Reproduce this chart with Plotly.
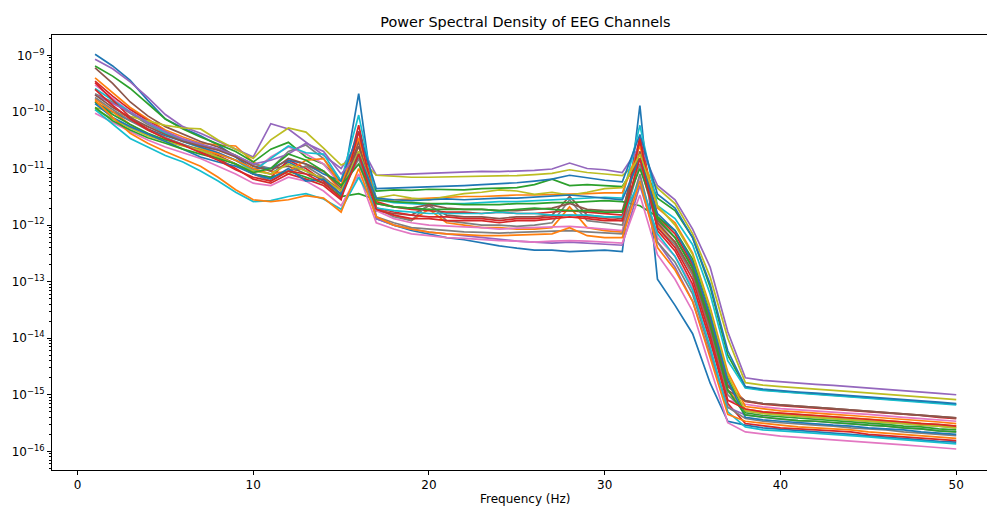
import plotly.graph_objects as go

# Frequencies (Hz)
freqs = [1, 2, 3, 4, 5, 6, 7, 8, 9, 10,
         11, 12, 13, 14, 15, 16, 17, 18, 19, 20,
         21, 22, 23, 24, 25, 26, 27, 28, 29, 30,
         31, 32, 33, 34, 35, 36, 37, 38, 39, 40,
         41, 42, 43, 44, 45, 46, 47, 48, 49, 50]

# PSD per channel (V^2/Hz)
psd_ch00 = [1.05e-9, 6.5e-10, 3.6e-10, 1.6e-10, 7.5e-11, 5.2e-11, 3.8e-11, 2.6e-11, 1.6e-11, 9.5e-12,
            8e-12, 1.3e-11, 9e-12, 6e-12, 3.5e-12, 2.1e-10,
            1.3e-12, 1.0e-12, 8e-13, 7e-13, 6e-13, 5.5e-13, 4.8e-13, 4.3e-13, 3.9e-13, 3.6e-13, 3.6e-13, 3.4e-13, 3.5e-13, 3.6e-13, 3.4e-13,
            1.3e-10, 1.1e-13, 3.8e-14, 1.2e-14, 1.6e-15, 3.4e-16,
            2.9e-16, 2.6e-16, 2.45e-16, 2.3e-16, 2.2e-16, 2.1e-16, 2.0e-16, 1.9e-16, 1.8e-16, 1.7e-16, 1.6e-16, 1.5e-16, 1.45e-16]
psd_ch01 = [4.0e-10, 2.2e-10, 1.2e-10, 7.5e-11, 4.8e-11, 3.6e-11, 2.8e-11, 2.6e-11, 2.5e-11, 1.3e-11,
            9e-12, 8e-12, 1.1e-11, 9e-12, 4e-12, 2.5e-11,
            2.0e-12, 1.5e-12, 1.2e-12, 1.9e-12, 1.1e-12, 1.0e-12, 9e-13, 9e-13, 8.5e-13, 8.5e-13, 9e-13, 2.1e-12, 9e-13, 8e-13, 7.5e-13,
            2.0e-11, 1.0e-12, 5e-13, 1.4e-13, 1.5e-14, 1.2e-15,
            5.6e-16, 5.0e-16, 4.7e-16, 4.5e-16, 4.3e-16, 4.1e-16, 3.9e-16, 3.7e-16, 3.5e-16, 3.3e-16, 3.1e-16, 3.0e-16, 2.8e-16]
psd_ch02 = [6.5e-10, 4.3e-10, 2.6e-10, 1.4e-10, 7.5e-11, 5e-11, 3.6e-11, 2.7e-11, 2.0e-11, 1.3e-11,
            2.2e-11, 2.9e-11, 1.6e-11, 1.2e-11, 6e-12, 1.5e-11,
            4.0e-12, 4.2e-12, 4.1e-12, 4.3e-12, 4.2e-12, 4.2e-12, 4.4e-12, 4.5e-12, 4.6e-12, 5.2e-12, 6.5e-12, 5.0e-12, 5.2e-12, 5.0e-12, 4.8e-12,
            1.5e-11, 3.0e-12, 1.8e-12, 6e-13, 8e-14, 5e-15,
            1.36e-15, 1.22e-15, 1.15e-15, 1.09e-15, 1.04e-15, 9.9e-16, 9.5e-16, 9.0e-16, 8.5e-16, 8.0e-16, 7.6e-16, 7.2e-16, 6.8e-16]
psd_ch03 = [3.5e-10, 1.9e-10, 1.1e-10, 7e-11, 4.5e-11, 3.2e-11, 2.4e-11, 1.7e-11, 1.2e-11, 8e-12,
            7e-12, 1.4e-11, 1.0e-11, 6e-12, 3.5e-12, 5.8e-11,
            2.6e-12, 2.1e-12, 1.9e-12, 1.8e-12, 1.7e-12, 1.7e-12, 1.6e-12, 1.7e-12, 1.6e-12, 1.6e-12, 1.7e-12, 1.8e-12, 1.7e-12, 1.6e-12, 1.5e-12,
            3.6e-11, 1.4e-12, 7e-13, 2e-13, 2.2e-14, 1.5e-15,
            7.6e-16, 6.8e-16, 6.4e-16, 6.1e-16, 5.8e-16, 5.5e-16, 5.3e-16, 5.0e-16, 4.8e-16, 4.5e-16, 4.3e-16, 4.0e-16, 3.8e-16]
psd_ch04 = [8.5e-10, 5.8e-10, 3.4e-10, 1.8e-10, 9e-11, 5.5e-11, 4.2e-11, 3.0e-11, 2.2e-11, 1.6e-11,
            6.2e-11, 5.0e-11, 2.9e-11, 1.7e-11, 1.0e-11, 3.0e-11,
            7.6e-12, 7.8e-12, 8.0e-12, 8.3e-12, 8.5e-12, 8.7e-12, 8.9e-12, 8.8e-12, 9.0e-12, 9.3e-12, 9.8e-12, 1.25e-11, 1.0e-11, 9.5e-12, 8.5e-12,
            2.5e-11, 5.0e-12, 2.8e-12, 8.5e-13, 1.8e-13, 1.3e-14,
            2.0e-15, 1.8e-15, 1.69e-15, 1.6e-15, 1.53e-15, 1.46e-15, 1.39e-15, 1.32e-15, 1.25e-15, 1.18e-15, 1.12e-15, 1.06e-15, 1.0e-15]
psd_ch05 = [6.0e-10, 3.2e-10, 1.5e-10, 8.5e-11, 5.5e-11, 4.0e-11, 3.0e-11, 2.4e-11, 1.7e-11, 1.1e-11,
            1.0e-11, 1.1e-11, 8e-12, 7e-12, 4e-12, 3.0e-11,
            1.8e-12, 1.6e-12, 1.5e-12, 2.2e-12, 1.5e-12, 1.4e-12, 1.4e-12, 1.3e-12, 1.4e-12, 1.4e-12, 1.5e-12, 3.2e-12, 1.5e-12, 1.4e-12, 1.3e-12,
            3.0e-11, 1.2e-12, 6e-13, 1.8e-13, 2e-14, 1.4e-15,
            7.8e-16, 7.0e-16, 6.6e-16, 6.2e-16, 6.0e-16, 5.7e-16, 5.4e-16, 5.1e-16, 4.9e-16, 4.6e-16, 4.4e-16, 4.1e-16, 3.9e-16]
psd_ch06 = [3.0e-10, 1.7e-10, 1.0e-10, 6.5e-11, 4.5e-11, 3.4e-11, 2.6e-11, 1.9e-11, 1.4e-11, 9e-12,
            1.6e-11, 2.4e-11, 1.8e-11, 1.2e-11, 5e-12, 1.2e-11,
            1.8e-12, 1.3e-12, 1.1e-12, 1.0e-12, 9.5e-13, 9.3e-13, 9.0e-13, 8.5e-13, 8.8e-13, 9.0e-13, 9.3e-13, 9.5e-13, 9.0e-13, 8.5e-13, 8.0e-13,
            7e-12, 6e-13, 2.8e-13, 8e-14, 9e-15, 8e-16,
            6.8e-16, 6.1e-16, 5.7e-16, 5.4e-16, 5.2e-16, 5.0e-16, 4.7e-16, 4.5e-16, 4.3e-16, 4.0e-16, 3.8e-16, 3.6e-16, 3.4e-16]
psd_ch07 = [2.1e-10, 1.5e-10, 9.5e-11, 6e-11, 4.2e-11, 3.2e-11, 2.6e-11, 2.2e-11, 1.7e-11, 1.2e-11,
            1.0e-11, 2.0e-11, 2.6e-11, 1.5e-11, 6e-12, 2.0e-11,
            2.0e-12, 1.4e-12, 1.2e-12, 2.4e-12, 1.2e-12, 1.1e-12, 1.0e-12, 1.0e-12, 9.5e-13, 1.0e-12, 1.1e-12, 2.8e-12, 1.2e-12, 1.1e-12, 1.0e-12,
            1.2e-11, 9e-13, 4.5e-13, 1.3e-13, 1.3e-14, 1.0e-15,
            5.2e-16, 4.7e-16, 4.4e-16, 4.2e-16, 4.0e-16, 3.8e-16, 3.6e-16, 3.4e-16, 3.3e-16, 3.1e-16, 2.9e-16, 2.8e-16, 2.6e-16]
psd_ch08 = [1.2e-10, 1.0e-10, 8.5e-11, 7e-11, 5.8e-11, 5.2e-11, 5.0e-11, 3.2e-11, 2.2e-11, 1.5e-11,
            3.2e-11, 5.2e-11, 4.4e-11, 2.3e-11, 1.15e-11, 1.6e-11,
            7.6e-12, 7.2e-12, 7.0e-12, 7.0e-12, 7.1e-12, 7.0e-12, 7.2e-12, 7.3e-12, 7.5e-12, 7.8e-12, 8.2e-12, 9.5e-12, 8.5e-12, 8.0e-12, 7.5e-12,
            1.4e-11, 4.5e-12, 2.4e-12, 7e-13, 1.2e-13, 1.0e-14,
            1.64e-15, 1.48e-15, 1.39e-15, 1.31e-15, 1.25e-15, 1.2e-15, 1.14e-15, 1.08e-15, 1.03e-15, 9.7e-16, 9.2e-16, 8.7e-16, 8.2e-16]
psd_ch09 = [2.6e-10, 1.6e-10, 1.0e-10, 6.5e-11, 4.2e-11, 3.0e-11, 2.3e-11, 1.8e-11, 1.4e-11, 9e-12,
            1.5e-11, 2.5e-11, 1.9e-11, 1.8e-11, 6e-12, 8.8e-11,
            2.8e-12, 2.5e-12, 2.4e-12, 2.3e-12, 2.4e-12, 2.4e-12, 2.5e-12, 2.6e-12, 2.6e-12, 2.7e-12, 2.8e-12, 2.9e-12, 3.0e-12, 3.1e-12, 3.0e-12,
            5.8e-11, 2.2e-12, 1.3e-12, 4.5e-13, 6e-14, 4e-15,
            1.32e-15, 1.19e-15, 1.12e-15, 1.06e-15, 1.01e-15, 9.6e-16, 9.2e-16, 8.7e-16, 8.3e-16, 7.8e-16, 7.4e-16, 7.0e-16, 6.6e-16]
psd_ch10 = [1.5e-10, 1.0e-10, 7e-11, 5e-11, 3.8e-11, 3.0e-11, 2.4e-11, 1.9e-11, 1.4e-11, 1.0e-11,
            1.0e-11, 1.4e-11, 1.2e-11, 8e-12, 6e-12, 4.5e-11,
            4.4e-12, 4.5e-12, 4.6e-12, 4.8e-12, 4.8e-12, 5.0e-12, 5.2e-12, 5.4e-12, 5.6e-12, 6.0e-12, 6.5e-12, 7.6e-12, 6.8e-12, 6.2e-12, 5.8e-12,
            4.0e-11, 3.5e-12, 2.0e-12, 6e-13, 9e-14, 6e-15,
            1.4e-15, 1.26e-15, 1.18e-15, 1.12e-15, 1.07e-15, 1.02e-15, 9.7e-16, 9.2e-16, 8.8e-16, 8.3e-16, 7.8e-16, 7.4e-16, 7.0e-16]
psd_ch11 = [1.7e-10, 1.0e-10, 6e-11, 4e-11, 3.2e-11, 2.6e-11, 2.2e-11, 1.8e-11, 1.4e-11, 1.0e-11,
            8e-12, 9e-12, 1.4e-11, 1.5e-11, 5e-12, 3.5e-11,
            2.7e-12, 2.8e-12, 2.9e-12, 3.0e-12, 3.1e-12, 3.2e-12, 3.2e-12, 3.3e-12, 3.4e-12, 3.4e-12, 3.5e-12, 3.6e-12, 3.6e-12, 3.7e-12, 3.7e-12,
            2.5e-11, 2.0e-12, 1.1e-12, 3.2e-13, 3.5e-14, 2.5e-15,
            6.2e-16, 5.6e-16, 5.2e-16, 5.0e-16, 4.7e-16, 4.5e-16, 4.3e-16, 4.1e-16, 3.9e-16, 3.7e-16, 3.5e-16, 3.3e-16, 3.1e-16]
psd_ch12 = [1.5e-10, 9e-11, 6e-11, 4.2e-11, 3.2e-11, 2.6e-11, 2.1e-11, 1.6e-11, 1.2e-11, 8e-12,
            7e-12, 9e-12, 7e-12, 5.5e-12, 3.2e-12, 3.6e-12,
            2.8e-12, 2.6e-12, 2.5e-12, 2.4e-12, 2.4e-12, 2.3e-12, 2.3e-12, 2.3e-12, 2.4e-12, 2.4e-12, 2.5e-12, 2.5e-12, 2.6e-12, 2.7e-12, 2.6e-12,
            2.2e-12, 1.4e-12, 8e-13, 2.5e-13, 3e-14, 2.0e-15,
            4.8e-16, 4.3e-16, 4.1e-16, 3.8e-16, 3.7e-16, 3.5e-16, 3.3e-16, 3.2e-16, 3.0e-16, 2.8e-16, 2.7e-16, 2.5e-16, 2.4e-16]
psd_ch13 = [3.3e-10, 1.6e-10, 8e-11, 5e-11, 3.5e-11, 2.6e-11, 2.0e-11, 1.5e-11, 1.0e-11, 6.5e-12,
            5.5e-12, 8e-12, 6.5e-12, 5e-12, 2.8e-12, 4.5e-11,
            2.0e-12, 1.7e-12, 1.5e-12, 1.4e-12, 1.4e-12, 1.3e-12, 1.3e-12, 1.2e-12, 1.3e-12, 1.3e-12, 1.4e-12, 1.5e-12, 1.4e-12, 1.3e-12, 1.2e-12,
            3.3e-11, 8e-13, 3.5e-13, 9e-14, 9e-15, 7e-16,
            3.1e-16, 2.8e-16, 2.6e-16, 2.5e-16, 2.4e-16, 2.3e-16, 2.2e-16, 2.0e-16, 1.9e-16, 1.8e-16, 1.7e-16, 1.6e-16, 1.55e-16]
psd_ch14 = [2.0e-10, 1.4e-10, 1.0e-10, 6.5e-11, 4.5e-11, 3.3e-11, 2.7e-11, 2.2e-11, 1.7e-11, 1.2e-11,
            1.4e-11, 1.8e-11, 2.8e-11, 2.0e-11, 8e-12, 1.8e-11,
            1.3e-12, 1.0e-12, 8.5e-13, 7.5e-13, 7e-13, 6.5e-13, 6e-13, 5.5e-13, 5.2e-13, 5.0e-13, 4.8e-13, 5e-13, 4.8e-13, 4.6e-13, 4.4e-13,
            5e-12, 5e-13, 1.8e-13, 4.5e-14, 5e-15, 6e-16,
            4.4e-16, 4.0e-16, 3.7e-16, 3.5e-16, 3.4e-16, 3.2e-16, 3.1e-16, 2.9e-16, 2.8e-16, 2.6e-16, 2.5e-16, 2.3e-16, 2.2e-16]
psd_ch15 = [2.0e-10, 1.2e-10, 8e-11, 5.5e-11, 4e-11, 3e-11, 2.5e-11, 2.1e-11, 1.6e-11, 1.1e-11,
            9e-12, 1.5e-11, 1.2e-11, 9e-12, 4.5e-12, 2.5e-11,
            2.4e-12, 2.1e-12, 2.0e-12, 2.3e-12, 2.0e-12, 1.9e-12, 1.9e-12, 1.8e-12, 1.8e-12, 1.9e-12, 2.0e-12, 2.4e-12, 1.9e-12, 1.8e-12, 1.8e-12,
            2.0e-11, 1.1e-12, 5e-13, 1.5e-13, 1.6e-14, 1.2e-15,
            7.8e-16, 7.0e-16, 6.6e-16, 6.2e-16, 6.0e-16, 5.7e-16, 5.4e-16, 5.1e-16, 4.9e-16, 4.6e-16, 4.4e-16, 4.1e-16, 3.9e-16]
psd_ch16 = [9.5e-11, 6.5e-11, 4.5e-11, 3.2e-11, 2.4e-11, 1.9e-11, 1.5e-11, 1.1e-11, 8e-12, 5.5e-12,
            5e-12, 7e-12, 6e-12, 4e-12, 2.2e-12, 8e-12,
            1.1e-12, 8.5e-13, 7e-13, 6.5e-13, 6e-13, 5.8e-13, 5.5e-13, 5.3e-13, 5.2e-13, 5.0e-13, 5.2e-13, 5.3e-13, 5.2e-13, 5.0e-13, 4.8e-13,
            3.4e-12, 3.0e-13, 1.1e-13, 3e-14, 3e-15, 3.2e-16,
            2.2e-16, 2.0e-16, 1.86e-16, 1.76e-16, 1.68e-16, 1.6e-16, 1.53e-16, 1.45e-16, 1.38e-16, 1.3e-16, 1.23e-16, 1.17e-16, 1.1e-16]
psd_ch17 = [1.8e-10, 1.1e-10, 7e-11, 4.8e-11, 3.5e-11, 2.7e-11, 2.1e-11, 1.6e-11, 1.2e-11, 8e-12,
            6e-12, 9e-12, 1.1e-11, 7e-12, 3.5e-12, 1.5e-11,
            1.4e-12, 1.1e-12, 9e-13, 8.5e-13, 8e-13, 7.6e-13, 7.4e-13, 7.2e-13, 7.4e-13, 7.6e-13, 7.8e-13, 8.0e-13, 7.6e-13, 7.2e-13, 7.0e-13,
            8e-12, 5e-13, 2.2e-13, 6e-14, 6e-15, 6e-16,
            3.8e-16, 3.4e-16, 3.2e-16, 3.0e-16, 2.9e-16, 2.8e-16, 2.6e-16, 2.5e-16, 2.4e-16, 2.2e-16, 2.1e-16, 2.0e-16, 1.9e-16]
psd_ch18 = [1.1e-10, 7.5e-11, 5.2e-11, 3.8e-11, 3.0e-11, 2.5e-11, 2.1e-11, 1.6e-11, 1.2e-11, 9e-12,
            8e-12, 1.2e-11, 9e-12, 6.5e-12, 4e-12, 2.0e-11,
            3.0e-12, 3.4e-12, 3.0e-12, 2.8e-12, 3.2e-12, 3.6e-12, 3.8e-12, 4.2e-12, 4.0e-12, 3.5e-12, 3.8e-12, 3.4e-12, 3.8e-12, 4.4e-12, 4.6e-12,
            1.8e-11, 2.2e-12, 1.0e-12, 3e-13, 3.2e-14, 2.2e-15,
            5.2e-16, 4.7e-16, 4.4e-16, 4.2e-16, 4.0e-16, 3.8e-16, 3.6e-16, 3.4e-16, 3.3e-16, 3.1e-16, 2.9e-16, 2.8e-16, 2.6e-16]
psd_ch19 = [1.1e-10, 6e-11, 3.4e-11, 2.4e-11, 1.7e-11, 1.3e-11, 9e-12, 6e-12, 3.8e-12, 2.6e-12,
            2.7e-12, 3.2e-12, 3.6e-12, 2.9e-12, 1.9e-12, 7e-12,
            2.0e-12, 1.8e-12, 1.7e-12, 1.6e-12, 1.6e-12, 1.6e-12, 1.6e-12, 1.7e-12, 1.6e-12, 1.6e-12, 1.5e-12, 1.5e-12, 1.5e-12, 1.4e-12, 1.4e-12,
            6e-12, 7e-13, 2.8e-13, 7e-14, 7e-15, 5e-16,
            2.7e-16, 2.4e-16, 2.3e-16, 2.2e-16, 2.1e-16, 2.0e-16, 1.9e-16, 1.8e-16, 1.7e-16, 1.6e-16, 1.5e-16, 1.4e-16, 1.35e-16]
psd_ch20 = [1.4e-10, 8e-11, 5.5e-11, 4e-11, 3.0e-11, 2.2e-11, 1.6e-11, 1.3e-11, 1.1e-11, 8e-12,
            6.5e-12, 1.0e-11, 6e-12, 6.5e-12, 3.5e-12, 1.8e-11,
            3.0e-12, 2.8e-12, 2.7e-12, 2.8e-12, 2.9e-12, 2.8e-12, 2.9e-12, 3.0e-12, 3.0e-12, 3.1e-12, 3.2e-12, 3.4e-12, 3.2e-12, 3.0e-12, 2.8e-12,
            1.5e-11, 1.6e-12, 8e-13, 2.2e-13, 2.5e-14, 1.8e-15,
            4.0e-16, 3.6e-16, 3.4e-16, 3.2e-16, 3.1e-16, 2.9e-16, 2.8e-16, 2.6e-16, 2.5e-16, 2.4e-16, 2.2e-16, 2.1e-16, 2.0e-16]
psd_ch21 = [1.6e-10, 8e-11, 4.2e-11, 2.8e-11, 2.0e-11, 1.5e-11, 1.1e-11, 7e-12, 4.2e-12, 2.8e-12,
            2.6e-12, 2.8e-12, 3.3e-12, 3.0e-12, 1.7e-12, 1.0e-11,
            1.4e-12, 1.0e-12, 8.5e-13, 7.5e-13, 7e-13, 6.8e-13, 6.5e-13, 6.5e-13, 6.6e-13, 6.8e-13, 7e-13, 9e-13, 6.5e-13, 6.0e-13, 6.0e-13,
            6e-12, 4e-13, 1.6e-13, 4.5e-14, 4.5e-15, 4.5e-16,
            3.4e-16, 3.1e-16, 2.9e-16, 2.7e-16, 2.6e-16, 2.5e-16, 2.4e-16, 2.2e-16, 2.1e-16, 2.0e-16, 1.9e-16, 1.8e-16, 1.7e-16]
psd_ch22 = [1.2e-10, 7e-11, 4.8e-11, 3.5e-11, 2.8e-11, 2.2e-11, 1.8e-11, 1.5e-11, 1.2e-11, 8.5e-12,
            1.0e-11, 1.8e-11, 1.4e-11, 9e-12, 5e-12, 1.2e-11,
            2.4e-12, 2.1e-12, 2.0e-12, 1.9e-12, 1.9e-12, 1.9e-12, 1.9e-12, 1.8e-12, 1.9e-12, 2.0e-12, 1.9e-12, 1.8e-12, 1.8e-12, 1.7e-12, 1.7e-12,
            1.0e-11, 1.3e-12, 6e-13, 1.7e-13, 1.8e-14, 1.2e-15,
            4.4e-16, 4.0e-16, 3.7e-16, 3.5e-16, 3.4e-16, 3.2e-16, 3.1e-16, 2.9e-16, 2.8e-16, 2.6e-16, 2.5e-16, 2.3e-16, 2.2e-16]
psd_ch23 = [2.5e-10, 1.3e-10, 7.5e-11, 4.8e-11, 3.4e-11, 2.6e-11, 1.9e-11, 1.4e-11, 9.5e-12, 7e-12,
            6e-12, 9e-12, 8e-12, 5.5e-12, 3e-12, 1.8e-11,
            1.9e-12, 1.5e-12, 1.3e-12, 1.3e-12, 1.2e-12, 1.2e-12, 1.2e-12, 1.1e-12, 1.2e-12, 1.2e-12, 1.3e-12, 1.4e-12, 1.3e-12, 1.2e-12, 1.2e-12,
            1.5e-11, 9e-13, 4e-13, 1.1e-13, 1.1e-14, 8e-16,
            5.6e-16, 5.0e-16, 4.7e-16, 4.5e-16, 4.3e-16, 4.1e-16, 3.9e-16, 3.7e-16, 3.5e-16, 3.3e-16, 3.1e-16, 3.0e-16, 2.8e-16]

channels = [psd_ch00, psd_ch01, psd_ch02, psd_ch03, psd_ch04, psd_ch05, psd_ch06, psd_ch07,
            psd_ch08, psd_ch09, psd_ch10, psd_ch11, psd_ch12, psd_ch13, psd_ch14, psd_ch15,
            psd_ch16, psd_ch17, psd_ch18, psd_ch19, psd_ch20, psd_ch21, psd_ch22, psd_ch23]

palette = ["#1f77b4", "#ff7f0e", "#2ca02c", "#d62728", "#9467bd",
           "#8c564b", "#e377c2", "#7f7f7f", "#bcbd22", "#17becf"]

x_ticks = [0, 10, 20, 30, 40, 50]
y_ticks = [1e-16, 1e-15, 1e-14, 1e-13, 1e-12, 1e-11, 1e-10, 1e-9]
y_ticktext = ["10<sup>\u221216</sup>", "10<sup>\u221215</sup>", "10<sup>\u221214</sup>", "10<sup>\u221213</sup>",
              "10<sup>\u221212</sup>", "10<sup>\u221211</sup>", "10<sup>\u221210</sup>", "10<sup>\u22129</sup>"]
y_minor = [m * 10.0 ** e for e in range(-17, -8) for m in range(2, 10)]

FONT = "DejaVu Sans"

fig = go.Figure()
for i, ch in enumerate(channels):
    fig.add_trace(go.Scatter(x=freqs, y=ch, mode="lines",
                             line=dict(color=palette[i % 10], width=1.7),
                             showlegend=False, name=f"Ch {i+1}"))

fig.update_layout(
    width=987, height=506,
    margin=dict(l=52, r=0, t=35, b=36),
    paper_bgcolor="white", plot_bgcolor="white",
    font=dict(family=FONT, size=12, color="black"),
    title=dict(text="Power Spectral Density of EEG Channels",
               font=dict(family=FONT, size=14.4, color="black"),
               xref="paper", x=0.5064, xanchor="center",
               yref="container", y=1 - 22 / 506, yanchor="middle"),
    showlegend=False,
)
fig.update_xaxes(range=[-1.45, 51.75], tickmode="array", tickvals=x_ticks,
                 ticks="outside", ticklen=4, tickwidth=1, tickcolor="black",
                 showline=True, linecolor="black", linewidth=1, mirror=True,
                 showgrid=False, zeroline=False,
                 tickfont=dict(family=FONT, size=12, color="black"))
fig.update_yaxes(type="log", range=[-16.33, -8.64], tickmode="array",
                 tickvals=y_ticks, ticktext=y_ticktext,
                 ticks="outside", ticklen=4, tickwidth=1, tickcolor="black",
                 showline=True, linecolor="black", linewidth=1, mirror=False,
                 showgrid=False, zeroline=False,
                 tickfont=dict(family=FONT, size=12, color="black"),
                 minor=dict(tickmode="array", tickvals=y_minor, ticks="outside",
                            ticklen=2.4, tickwidth=0.8, tickcolor="black", showgrid=False))
fig.add_annotation(text="Frequency (Hz)", xref="paper", yref="paper",
                   x=0.5064, y=-(499 - 470.3) / 435.6, xanchor="center", yanchor="middle",
                   showarrow=False, font=dict(family=FONT, size=12, color="black"))

fig.write_html("out.html")
